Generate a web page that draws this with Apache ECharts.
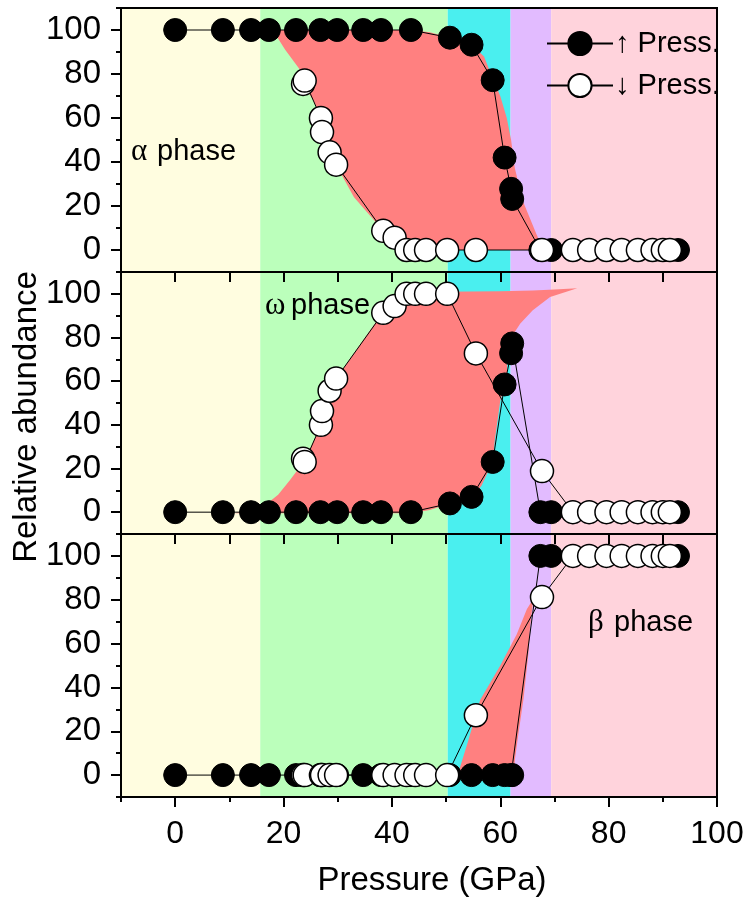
<!DOCTYPE html>
<html><head><meta charset="utf-8">
<script src="https://cdn.jsdelivr.net/npm/echarts@6/dist/echarts.min.js"></script>
<style>html,body{margin:0;padding:0;background:#fff}#c{width:752px;height:907px}</style>
</head><body><div id="c"></div>
<script>
// ---- data ----
const phaseEdges = [-10, 15.7, 50.3, 61.9, 69.4, 100];
const phaseColors = ['#FFFDE0', '#BBFFBB', '#4AEFEF', '#E2BBFF', '#FFD3DC'];
const yTickLabels = [0, 20, 40, 60, 80, 100];
const xTickLabels = [0, 20, 40, 60, 80, 100];

// increasing pressure (filled circles)
const upP     = [0, 8.8, 14, 17.3, 22.3, 26.8, 29.9, 34.7, 38, 43.5, 50.7, 54.7, 58.6, 60.8, 62.0, 62.2, 67.4, 69.4, 92.8];
const upAlpha = [100, 100, 100, 100, 100, 100, 100, 100, 100, 100, 96.5, 93.3, 77.2, 42, 27.8, 23.2, 0, 0, 0];
const upOmega = [0, 0, 0, 0, 0, 0, 0, 0, 0, 0, 4, 7, 23, 58.5, 72.8, 77.3, 0, 0, 0];
const upBeta  = [0, 0, 0, 0, 0, 0, 0, 0, 0, 0, 0, 0, 0, 0, 0, 0, 100, 100, 100];

// decreasing pressure (open circles)
const downP     = [23.6, 23.9, 26.9, 27.1, 28.5, 29.7, 38.4, 40.5, 42.7, 44.3, 46.3, 50.2, 55.5, 67.7, 73.4, 76.4, 79.6, 82.4, 85.4, 88.1, 90.0, 91.3];
const downAlpha = [75.5, 77, 60, 53.6, 44.4, 38.8, 8.7, 5.6, 0, 0, 0, 0, 0, 0, 0, 0, 0, 0, 0, 0, 0, 0];
const downOmega = [24.5, 23, 40, 46.3, 55.6, 61.2, 91.3, 94.4, 100, 100, 100, 100, 72.7, 18.8, 0, 0, 0, 0, 0, 0, 0, 0];
const downBeta  = [0, 0, 0, 0, 0, 0, 0, 0, 0, 0, 0, 0, 27.3, 81.2, 100, 100, 100, 100, 100, 100, 100, 100];

// hysteresis (red) regions, outline points [pressure, abundance]
const bandAlpha = [[18,100],[43.5,100],[47,99],[50.7,96.5],[54.7,93.3],[57,88],[58.6,78],[60,70],[61.2,60],[62,50],[62.7,37],[64.2,22],[66.7,7],[68,0],
  [43,0],[40.5,5.6],[38.4,8.7],[33,24],[29.7,38.8],[28.5,44.4],[27.1,53.6],[26.9,60],[25.5,68],[24.3,72.6],[23,82],[20.3,91]];
const bandOmega = [[11,-0.5],[16,2],[19,8],[21.2,14.7],[23,20.7],[24,24],[26.9,40],[27.1,46.3],[28.5,55.6],[29.7,61.2],[38.4,91.8],[40.4,95],[43,100.8],
  [60,101.2],[66,101.5],[70,102],[74.2,102.6],[69.2,98.6],[66,92.5],[63.7,86.4],[62.7,82.6],[62.2,77.3],[61.3,70],[61.2,60],[60,51],[59,33],[58.6,23],[56.5,12],[54.7,7],[50.7,4],[47,1],[43.5,-0.5]];
const bandBeta = [[51.7,0],[52.5,3],[54,15],[56.3,34.4],[60,50],[63,64],[64.9,75.7],[66.5,82],[69.5,89.4],
  [68.5,87],[66.1,80.3],[65.5,68],[65.2,55.8],[64.3,35],[63.3,18],[62.7,7],[62.5,0]];

const panels = [
  {up: upAlpha, down: downAlpha, band: bandAlpha},
  {up: upOmega, down: downOmega, band: bandOmega},
  {up: upBeta,  down: downBeta,  band: bandBeta}
];
const gridBoxes = [{top: 8, height: 264}, {top: 272, height: 262}, {top: 534, height: 263}];

const FONT = 'Liberation Sans, Arial, sans-serif';
const SERIF = 'Liberation Serif, Times New Roman, serif';
const zip = (xs, ys) => xs.map((x, i) => [x, ys[i]]);

const grid = [], xAxis = [], yAxis = [], series = [];
gridBoxes.forEach((g, i) => {
  grid.push({left: 121, width: 596, top: g.top, height: g.height, show: true,
    borderColor: '#000', borderWidth: 2, backgroundColor: 'transparent', z: 4});
  const last = i === 2;
  // x axis: for upper panels ticks point into the panel below
  xAxis.push({type: 'value', gridIndex: i, min: -10, max: 100, interval: 10, z: 4, position: 'bottom',
    axisLine: {show: true, onZero: false, lineStyle: {color: '#000', width: 2}},
    axisTick: {show: true, inside: false, length: last ? 5 : 10, lineStyle: {color: '#000', width: 2}},
    axisLabel: {show: false}, splitLine: {show: false}});
  // y axis minor ticks
  yAxis.push({type: 'value', gridIndex: i, min: -10, max: 110, interval: 10, position: 'left', z: 4,
    axisLine: {show: true, onZero: false, lineStyle: {color: '#000', width: 2}},
    axisTick: {show: true, length: 5, lineStyle: {color: '#000', width: 2}},
    axisLabel: {show: false}, splitLine: {show: false}});
  // y axis major ticks + labels
  yAxis.push({type: 'value', gridIndex: i, min: -10, max: 110, position: 'left', z: 4,
    axisLine: {show: false, onZero: false},
    axisTick: {show: true, length: 10, customValues: yTickLabels, lineStyle: {color: '#000', width: 2}},
    axisLabel: {show: true, customValues: yTickLabels, margin: 20, fontSize: 33, color: '#000', fontFamily: FONT},
    splitLine: {show: false}});
});
// bottom axis major ticks + labels
xAxis.push({type: 'value', gridIndex: 2, min: -10, max: 100, z: 4, position: 'bottom',
  axisLine: {show: false, onZero: false},
  axisTick: {show: true, length: 10, customValues: xTickLabels, lineStyle: {color: '#000', width: 2}},
  axisLabel: {show: true, customValues: xTickLabels, margin: 21, fontSize: 32, color: '#000', fontFamily: FONT},
  splitLine: {show: false}});

panels.forEach((p, i) => {
  const yi = 2 * i + 1;
  // phase backgrounds
  series.push({type: 'custom', xAxisIndex: i, yAxisIndex: yi, z: 1, silent: true,
    data: phaseColors.map((c, k) => [phaseEdges[k], phaseEdges[k + 1]]),
    encode: {x: [0, 1]},
    renderItem: (params, api) => {
      const a = api.coord([api.value(0), 110]);
      const b = api.coord([api.value(1), -10]);
      return {type: 'rect', shape: {x: a[0], y: a[1], width: b[0] - a[0], height: b[1] - a[1]},
        style: {fill: phaseColors[params.dataIndex]}};
    }});
  // hysteresis band
  const band = p.band;
  series.push({type: 'custom', xAxisIndex: i, yAxisIndex: yi, z: 2, silent: true,
    data: band, encode: {x: 0, y: 1},
    renderItem: (params, api) => {
      if (params.dataIndex !== 0) return null;
      return {type: 'polygon', shape: {points: band.map(pt => api.coord(pt))},
        style: {fill: '#FF8080'}};
    }});
  series.push({name: '↑ Press.', type: 'line', xAxisIndex: i, yAxisIndex: yi, z: 5,
    data: zip(upP, p.up), symbol: 'circle', symbolSize: 23,
    lineStyle: {color: '#000', width: 1}, itemStyle: {color: '#000', borderColor: '#000', borderWidth: 1},
    emphasis: {disabled: true}});
  series.push({name: '↓ Press.', type: 'line', xAxisIndex: i, yAxisIndex: yi, z: 6,
    data: zip(downP, p.down), symbol: 'circle', symbolSize: 23,
    lineStyle: {color: '#000', width: 1}, itemStyle: {color: '#fff', borderColor: '#000', borderWidth: 1.5},
    emphasis: {disabled: true}});
});

const phaseText = (x, y, g) => ({type: 'group', x: x, y: y, z: 20, children: [
  {type: 'text', x: 0, y: 0, z: 20, style: {text: g, fill: '#000', font: '31px ' + SERIF, verticalAlign: 'middle'}},
  {type: 'text', x: 26, y: 0, z: 20, style: {text: 'phase', fill: '#000', font: '29px ' + FONT, verticalAlign: 'middle'}}
]});

const option = {
  animation: false,
  backgroundColor: '#fff',
  grid, xAxis, yAxis, series,
  legend: {data: ['↑ Press.', '↓ Press.'], orient: 'vertical', left: 541, top: 24,
    itemWidth: 66, itemHeight: 29, itemGap: 13, z: 20,
    textStyle: {fontSize: 29, color: '#000', fontFamily: FONT, padding: [0, 0, 0, -3]}},
  graphic: [
    phaseText(131, 152, 'α'),
    phaseText(265, 306, 'ω'),
    phaseText(588, 623, 'β'),
    {type: 'text', x: 27, y: 417, rotation: Math.PI / 2, z: 20,
      style: {text: 'Relative abundance', fill: '#000', font: '33px ' + FONT, align: 'center', verticalAlign: 'middle'}},
    {type: 'text', x: 432, y: 881, z: 20,
      style: {text: 'Pressure (GPa)', fill: '#000', font: '33px ' + FONT, align: 'center', verticalAlign: 'middle'}}
  ]
};
const chart = echarts.init(document.getElementById('c'), null, {renderer: 'canvas'});
chart.setOption(option);
</script></body></html>
